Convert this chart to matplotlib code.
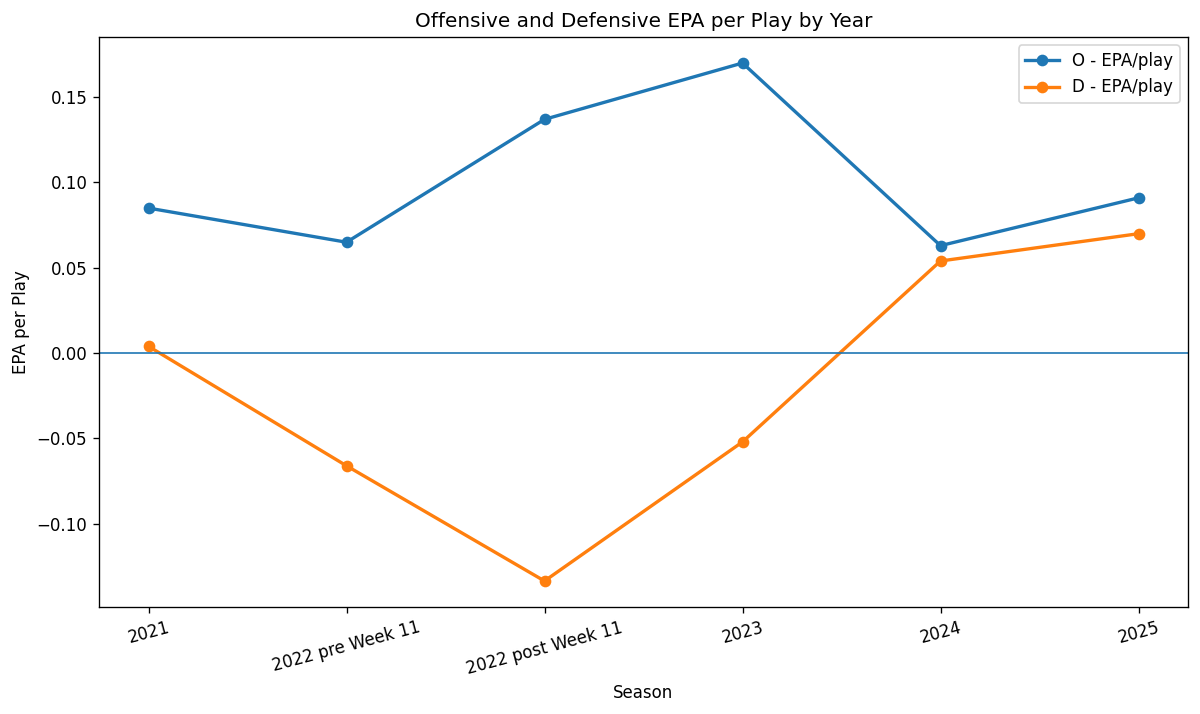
import matplotlib
matplotlib.use("Agg")
import matplotlib.pyplot as plt

seasons = ["2021", "2022 pre Week 11", "2022 post Week 11", "2023", "2024", "2025"]
off_epa = [0.085, 0.065, 0.137, 0.170, 0.063, 0.091]
def_epa = [0.004, -0.066, -0.1335, -0.052, 0.054, 0.070]

fig = plt.figure(figsize=(10, 5.95), dpi=120)
ax = fig.add_axes([0.0825, 0.150, 0.9075, 0.798])
ax.plot(seasons, off_epa, marker="o", linewidth=2, label="O - EPA/play")
ax.plot(seasons, def_epa, marker="o", linewidth=2, label="D - EPA/play")
ax.axhline(0, linewidth=1)
ax.set_title("Offensive and Defensive EPA per Play by Year")
ax.set_xlabel("Season")
ax.set_ylabel("EPA per Play")
plt.setp(ax.get_xticklabels(), rotation=15)
ax.legend(loc="upper right")
fig.savefig("out.png", dpi=120)
